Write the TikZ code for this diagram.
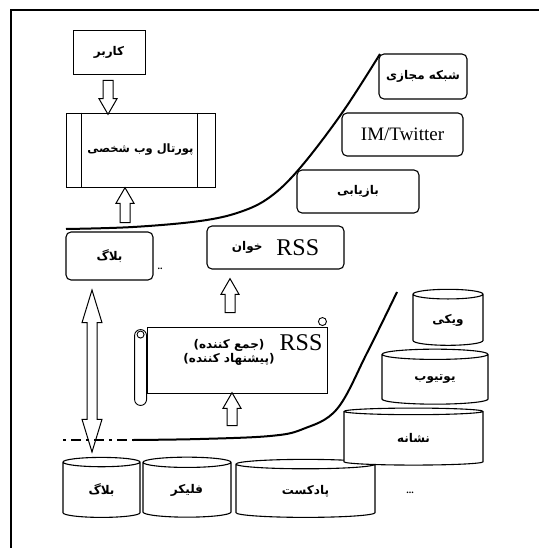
\documentclass[tikz,border=0pt]{standalone}
\usepackage{fontspec}
\setmainfont{Liberation Serif}
\newfontfamily\farsi[Script=Arabic]{DejaVu Sans}
\TeXXeTstate=1
\usetikzlibrary{shapes.geometric,shapes.arrows,calc}
\newcommand{\fa}[1]{{\farsi\bfseries\fontsize{12}{14}\selectfont\beginR #1\endR}}
\newcommand{\rssfont}{\fontsize{24}{26}\selectfont}
\tikzset{
  box/.style={draw, line width=0.9pt, inner sep=0pt},
  rbox/.style={box, line width=1.1pt, rounded corners=5pt},
  cyl/.style={cylinder, shape border rotate=90, draw, fill=white,
    line width=1.1pt, inner sep=0pt},
  harrow/.style={single arrow, draw, fill=white, line width=1pt, inner xsep=0pt,
    inner ysep=4.5pt, single arrow head extend=4pt, single arrow tip angle=60},
  darrow/.style={double arrow, draw, fill=white, line width=1pt, inner xsep=0pt,
    inner ysep=4.5pt, double arrow head extend=5pt, double arrow tip angle=34}
}
\begin{document}
\begin{tikzpicture}[x=1pt,y=-1pt]
  \useasboundingbox (0,0) rectangle (539,548);
  \draw[line width=2.6pt] (11,548) -- (11,10) -- (539,10);
  % left column
  \node (user) [box, minimum width=72pt, minimum height=44pt] at (109,52) {\fa{کاربر}};
  \node (portal) [box, minimum width=149pt, minimum height=74pt] at (140.5,150)
    {\fa{\fontsize{11.5}{14}\selectfont پورتال وب شخصی}};
  \draw[line width=0.9pt] ([xshift=16pt]portal.north west) -- ([xshift=16pt]portal.south west);
  \draw[line width=0.9pt] ([xshift=-18pt]portal.north east) -- ([xshift=-18pt]portal.south east);
  \node (blog) [rbox, minimum width=87pt, minimum height=48pt] at (109.5,256) {\fa{بلاگ}};
  \node (dots1) at (160,269) {\bfseries ..};
  % upper stair
  \node (reader) [rbox, minimum width=137pt, minimum height=43pt] at (275.5,247.5)
    {\fa{\beginL{\rmfamily\mdseries\rssfont RSS}\endL\hspace{14pt}\raisebox{5pt}{خوان}}};
  \node (search) [rbox, minimum width=122pt, minimum height=43pt] at (358,191.5) {\fa{بازیابی}};
  \node (im) [rbox, minimum width=121pt, minimum height=43pt] at (402.5,134.5)
    {\fontsize{19}{21}\selectfont IM/Twitter};
  \node (social) [rbox, minimum width=88pt, minimum height=45pt] at (423,76.5) {\fa{شبکه مجازی}};
  \draw[line width=2pt] plot[smooth, tension=0.6] coordinates {(66,229) (133,227) (200,221)
    (240,212) (270,197) (300,168) (342,113) (380,54)};
  % aggregator scroll
  \node (agg) [box, minimum width=180pt, minimum height=66pt] at (237,360) {};
  \draw[line width=0.9pt, fill=white, rounded corners=6pt] ($(agg.north west)+(-12,3)$)
    rectangle ($(agg.south west)+(0,12)$);
  \draw[line width=0.9pt] ($(agg.north west)+(-6,8)$) circle (3.5pt);
  \draw[line width=0.9pt, fill=white] ($(agg.north east)+(-5,-5)$) circle (4pt);
  \node (aggrss) at (301,343) {\rssfont RSS};
  \node (aggfa) [align=center] at (229,352) {\fa{(جمع کننده)}\\[1pt]\fa{(پیشنهاد کننده)}};
  % arrows
  \node (a1) [harrow, rotate=-90, minimum height=34pt] at (108,93) {};
  \node (a2) [harrow, rotate=90, minimum height=35pt] at (125,209.5) {};
  \node (a3) [harrow, rotate=90, minimum height=34pt] at (230,300) {};
  \node (a4) [harrow, rotate=90, minimum height=33pt] at (232,413.5) {};
  \node (a5) [darrow, rotate=90, minimum height=162pt] at (92,371) {};
  % lower stair
  \draw[line width=1.6pt, dash pattern=on 3pt off 5pt on 10pt off 5pt] (63,440) -- (133,440);
  \draw[line width=2pt] plot[smooth, tension=0.6] coordinates {(133,440) (200,439)
    (270,436) (303,429) (337,409) (367,353) (397,292)};
  \node (wiki) [cyl, aspect=0.31, minimum width=70pt, minimum height=56pt] at (448,320) {\fa{ویکی}};
  \node (youtube) [cyl, aspect=0.25, minimum width=106pt, minimum height=55pt] at (435,379.5) {\fa{یوتیوب}};
  \node (podcast) [cyl, aspect=0.2, minimum width=139pt, minimum height=58pt] at (305.5,491) {\fa{پادکست}};
  \node (tag) [cyl, aspect=0.2, minimum width=139pt, minimum height=57pt] at (413.5,438.5) {\fa{نشانه}};
  \node (blogc) [cyl, aspect=0.36, minimum width=77pt, minimum height=60pt] at (101.5,490) {\fa{بلاگ}};
  \node (flickr) [cyl, aspect=0.32, minimum width=88pt, minimum height=60pt] at (187,490) {\fa{فلیکر}};
  \node (dots2) at (410,493) {\bfseries ...};
\end{tikzpicture}
\end{document}
